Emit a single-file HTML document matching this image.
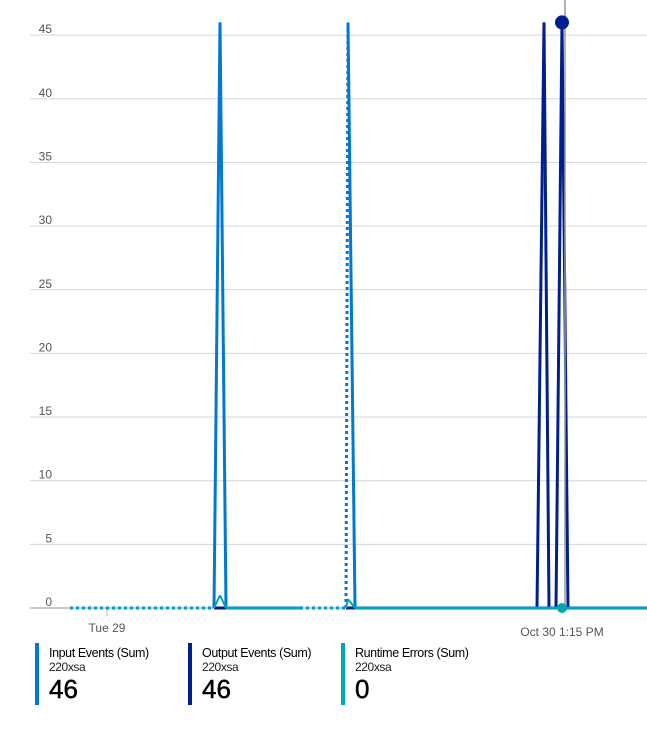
<!DOCTYPE html>
<html><head><meta charset="utf-8"><style>
body{margin:0;width:647px;height:732px;background:#fff;font-family:"Liberation Sans",sans-serif;overflow:hidden}
svg{position:absolute;left:0;top:0}
.lg{position:absolute;top:643px;height:62px;border-left:4px solid;padding-left:10px;color:#000}
.lg .t{font-size:12.5px;letter-spacing:-0.4px;line-height:14px;margin-top:3px}
.lg .s{font-size:12px;color:#222;line-height:14px;letter-spacing:-0.4px}
.lg .v{font-size:26px;line-height:30px;-webkit-text-stroke:0.5px #000}
</style></head><body>
<svg id="chart" width="647" height="640"></svg>
<div class="lg" style="left:35px;border-color:#0078d4"><div class="t">Input Events (Sum)</div><div class="s">220xsa</div><div class="v">46</div></div>
<div class="lg" style="left:188px;border-color:#001f8f"><div class="t">Output Events (Sum)</div><div class="s">220xsa</div><div class="v">46</div></div>
<div class="lg" style="left:341px;border-color:#00a8b0"><div class="t">Runtime Errors (Sum)</div><div class="s">220xsa</div><div class="v">0</div></div>
<script>
const yTicks=[0,5,10,15,20,25,30,35,40,45];
const inputTimes=[0,72,75,78,115,138,139,142.5,288.5];
const inputValues=[0,0,46,0,0,0,46,0,0];
const inputDashed=[0,4,5];
const outputTimes=[72,78,115,138,233.5,237,239.5,243,246,249,288.5];
const outputValues=[0,0,0,0,0,46,0,0,46,0,0];
const outputDashed=[2];
const errorTimes=[0,72,75,78,115,138,139,142.5,288.5];
const errorValues=[0,0,1,0,0,0,0.7,0,0];
const errorDashed=[0,4];
const xTickTimes=[18.5];const xTickLabels=["Tue 29"];
const cursorTime=246;
const NS="http://www.w3.org/2000/svg";
const svg=document.getElementById('chart');
const X=t=>70+t*2, Y=v=>608-v*12.73;
function el(tag,a){const e=document.createElementNS(NS,tag);for(const k in a)e.setAttribute(k,a[k]);svg.appendChild(e);return e;}
yTicks.forEach(v=>{
  const l=el('line',{x1:30,x2:647,y1:Y(v),y2:Y(v),stroke:v?'#d6d6d6':'#c8c8c8','stroke-width':v?1:2});
  
  
  const t=el('text',{x:52,y:Y(v)-2,'text-anchor':'end','font-size':'12',fill:'#555'});
  t.textContent=v;
  
  
});
xTickTimes.forEach((tt,i)=>{
  const l=el('line',{x1:X(tt),x2:X(tt),y1:609,y2:616,stroke:'#bbb'});
  
  
  const t=el('text',{x:X(tt),y:632,'text-anchor':'middle','font-size':'12',fill:'#555'});
  t.textContent=xTickLabels[i];
  
  
});
const ct=el('text',{x:X(cursorTime),y:636,'text-anchor':'middle','font-size':'12',fill:'#555'});
ct.textContent="Oct 30 1:15 PM";


function series(times,vals,dashed,color,w,name){
  for(let i=0;i<times.length-1;i++){
    const d=dashed.includes(i);
    const l=el('line',{x1:X(times[i]),y1:Y(vals[i]),x2:X(times[i+1]),y2:Y(vals[i+1]),stroke:color,'stroke-width':w,'stroke-dasharray':d?'3,3':'none'});
    
    
  }
}
series(outputTimes,outputValues,outputDashed,'#001f8f',3,'output-events');
series(inputTimes,inputValues,inputDashed,'#0078d4',3,'input-events');
series(errorTimes,errorValues,errorDashed,'#00a8b0',2,'runtime-errors');
const cl=el('line',{x1:X(cursorTime)+3,x2:X(cursorTime)+3,y1:0,y2:608,stroke:'#999','stroke-width':1.5});


const d1=el('circle',{cx:X(cursorTime),cy:Y(outputValues[8]),r:7,fill:'#001f8f'});


const d2=el('circle',{cx:X(cursorTime),cy:Y(0),r:5,fill:'#00a8b0'});


</script>
</body></html>
